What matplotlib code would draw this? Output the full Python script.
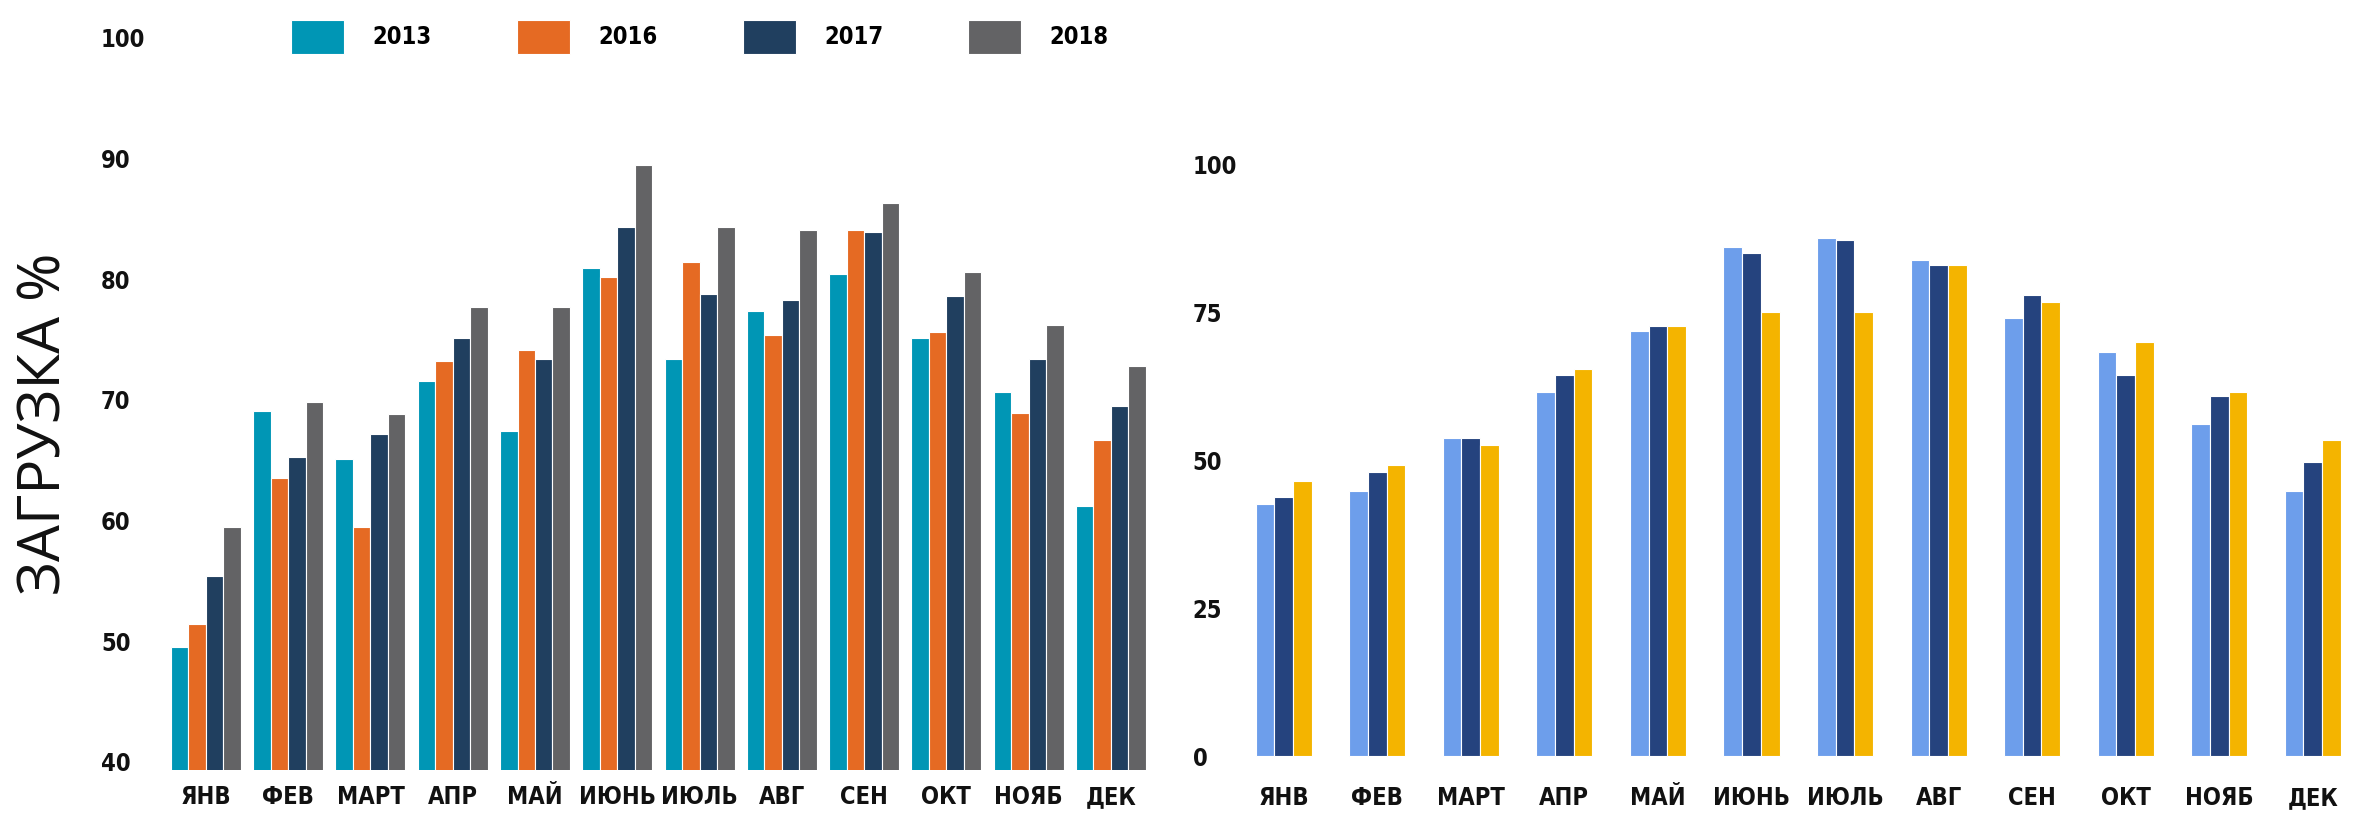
import numpy as np
import matplotlib.pyplot as plt
from matplotlib.font_manager import FontProperties

months = ["ЯНВ", "ФЕВ", "МАРТ", "АПР", "МАЙ", "ИЮНЬ", "ИЮЛЬ", "АВГ", "СЕН", "ОКТ", "НОЯБ", "ДЕК"]

# левый график: загрузка по годам
years = ["2013", "2016", "2017", "2018"]
load_2013 = [49.5, 69.1, 65.1, 71.6, 67.4, 80.9, 73.4, 77.4, 80.4, 75.1, 70.7, 61.2]
load_2016 = [51.4, 63.5, 59.5, 73.2, 74.1, 80.2, 81.4, 75.4, 84.1, 75.6, 68.9, 66.7]
load_2017 = [55.4, 65.3, 67.2, 75.1, 73.4, 84.3, 78.8, 78.3, 83.9, 78.6, 73.4, 69.5]
load_2018 = [59.5, 69.8, 68.8, 77.7, 77.7, 89.5, 84.3, 84.1, 86.3, 80.6, 76.2, 72.8]
left_colors = ["#0096b5", "#e56a23", "#203f5f", "#636365"]

# правый график: три серии без подписи
right_a = [42.7, 44.8, 53.8, 61.6, 71.9, 86.2, 87.7, 84.0, 74.1, 68.4, 56.2, 44.8]
right_b = [43.8, 48.1, 53.8, 64.5, 72.7, 85.1, 87.3, 83.0, 78.0, 64.5, 60.9, 49.8]
right_c = [46.6, 49.2, 52.6, 65.5, 72.7, 75.2, 75.2, 83.0, 76.9, 70.1, 61.6, 53.4]
right_colors = ["#6d9eeb", "#25437e", "#f4b400"]

left_ticks = [40, 50, 60, 70, 80, 90, 100]
right_ticks = [0, 25, 50, 75, 100]

fp = FontProperties(family="DejaVu Sans", stretch="condensed", weight="bold", size=17)

fig = plt.figure(figsize=(23.57, 8.15), dpi=100)

x = np.arange(len(months))

# --- left
ax1 = fig.add_axes([0.0664, 0.0552, 0.4259, 0.8982])
w = 0.85 / 4
for i, (vals, c, lab) in enumerate(zip([load_2013, load_2016, load_2017, load_2018], left_colors, years)):
    ax1.bar(x + (i - 1.5) * w, vals, w, color=c, edgecolor="white", linewidth=0.8, label=lab)
ax1.set_xlim(-0.6, 11.6)
ax1.set_ylim(39.33, 100)
ax1.set_yticks(left_ticks)
ax1.set_xticks(x)
ax1.set_xticklabels(months)
ax1.tick_params(axis="y", length=0, pad=40)
ax1.tick_params(axis="x", length=0, pad=11)
for t in ax1.get_yticklabels():
    t.set_ha("left")

# --- right
ax2 = fig.add_axes([0.5248, 0.054, 0.4743, 0.7436])
w2 = 0.6 / 3
for i, (vals, c) in enumerate(zip([right_a, right_b, right_c], right_colors)):
    ax2.bar(x + (i - 1) * w2, vals, w2, color=c, edgecolor="white", linewidth=0.8)
ax2.set_xlim(-0.5, 11.45)
ax2.set_ylim(-2.5, 100)
ax2.set_yticks(right_ticks)
ax2.set_xticks(x)
ax2.set_xticklabels(months)
ax2.tick_params(axis="y", length=0, pad=32)
ax2.tick_params(axis="x", length=0, pad=11)
for t in ax2.get_yticklabels():
    t.set_ha("left")

for ax in (ax1, ax2):
    for s in ax.spines.values():
        s.set_visible(False)
    for t in ax.get_xticklabels() + ax.get_yticklabels():
        t.set_fontproperties(fp)
        t.set_color("#111111")

fig.text(0.019, 0.48, "ЗАГРУЗКА %", rotation=90, ha="center", va="center",
         fontsize=42, family=["Open Sans", "DejaVu Sans"], color="#111111")

fig.legend(loc="center", bbox_to_anchor=(0.297, 0.955), ncol=4, frameon=False,
           prop=fp, handlelength=2.25, handleheight=1.85, handletextpad=1.2,
           columnspacing=3.6, borderpad=0)

plt.savefig("out.png", dpi=100)
